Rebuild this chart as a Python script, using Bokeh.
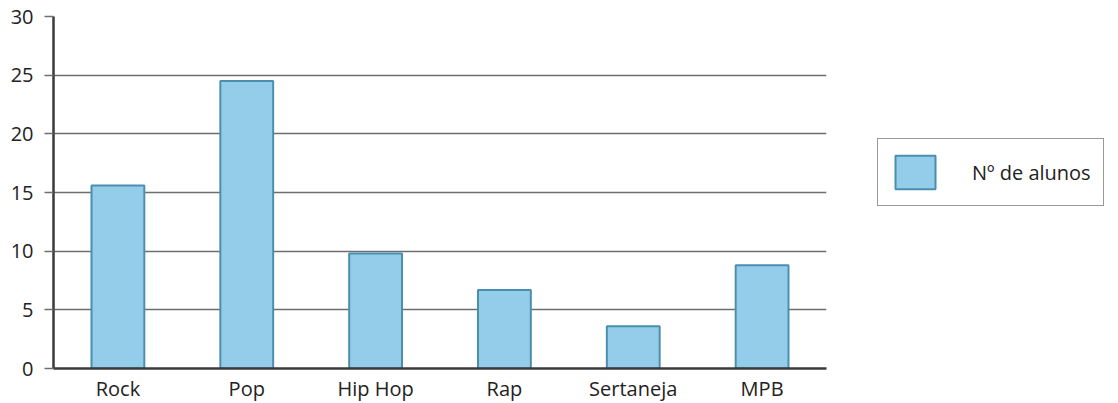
from bokeh.plotting import figure
from bokeh.models import ColumnDataSource, Legend, LegendItem, FixedTicker, Range1d
from bokeh.embed import file_html
from bokeh.resources import INLINE

categories = ["Rock", "Pop", "Hip Hop", "Rap", "Sertaneja", "MPB"]
alunos = [15.6, 24.5, 9.8, 6.7, 3.6, 8.8]
y_ticks = [0, 5, 10, 15, 20, 25, 30]
series_name = "Nº de alunos"

FONT = "Open Sans"

src = ColumnDataSource(dict(cat=categories, val=alunos))

p = figure(x_range=categories, y_range=Range1d(0, 30),
           frame_width=773, frame_height=352,
           output_backend="svg", toolbar_location=None,
           min_border_left=53, min_border_top=16, min_border_bottom=30,
           min_border_right=4, background_fill_color="white",
           border_fill_color="white")
p.outline_line_color = None
p.x_range.range_padding = 0
p.x_range.factor_padding = 0

r = p.vbar(x="cat", top="val", width=0.41, source=src,
           fill_color="#93cde9", line_color="#4b8fae", line_width=2)

p.xgrid.grid_line_color = None
p.ygrid.grid_line_color = "#6e6e6e"
p.ygrid.grid_line_width = 1.5
p.yaxis.ticker = FixedTicker(ticks=y_ticks)

p.yaxis.axis_line_color = "#3a3a3a"
p.yaxis.axis_line_width = 2.5
p.yaxis.major_tick_line_color = "#6e6e6e"
p.yaxis.major_tick_line_width = 1.5
p.yaxis.major_tick_out = 9
p.yaxis.major_tick_in = 0
p.yaxis.minor_tick_line_color = None
p.yaxis.major_label_standoff = 11

p.xaxis.axis_line_color = "#3a3a3a"
p.xaxis.axis_line_width = 2.5
p.xaxis.major_tick_line_color = None
p.xaxis.minor_tick_line_color = None
p.xaxis.major_label_standoff = 0

for ax in (p.xaxis, p.yaxis):
    ax.major_label_text_font = FONT
    ax.major_label_text_font_size = "20px"
    ax.major_label_text_color = "#222222"

legend = Legend(items=[LegendItem(label=series_name, renderers=[r])],
                location=(51, 162), orientation="vertical")
legend.glyph_width = 50
legend.glyph_height = 42
legend.padding = 12
legend.spacing = 0
legend.label_standoff = 32
legend.label_text_font = FONT
legend.label_text_font_size = "20px"
legend.label_text_color = "#222222"
legend.border_line_color = "#333333"
legend.border_line_width = 1.5
legend.margin = 0
p.add_layout(legend, "right")

open("out.html", "w").write(file_html(p, INLINE))
